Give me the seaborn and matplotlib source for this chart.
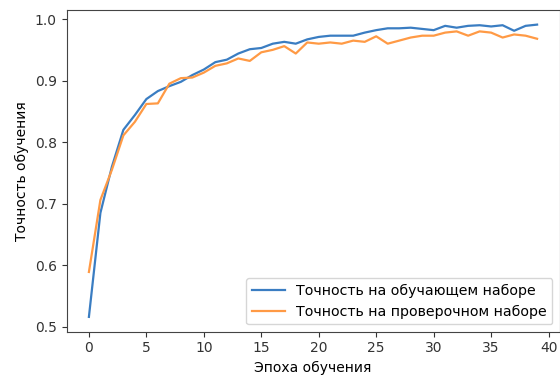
import matplotlib
matplotlib.use('Agg')
import matplotlib.pyplot as plt
import seaborn as sns
import pandas as pd

# accuracy per epoch
epochs = list(range(40))
train_acc = [0.516, 0.685, 0.760, 0.820, 0.844, 0.870, 0.883, 0.891, 0.898, 0.909,
             0.918, 0.930, 0.934, 0.944, 0.951, 0.953, 0.960, 0.963, 0.960, 0.967,
             0.971, 0.973, 0.973, 0.973, 0.978, 0.982, 0.985, 0.985, 0.986, 0.984,
             0.982, 0.989, 0.986, 0.989, 0.990, 0.988, 0.990, 0.981, 0.989, 0.991]
val_acc = [0.589, 0.706, 0.755, 0.811, 0.833, 0.862, 0.863, 0.895, 0.904, 0.905,
           0.913, 0.924, 0.928, 0.936, 0.932, 0.946, 0.950, 0.956, 0.944, 0.962,
           0.960, 0.962, 0.960, 0.965, 0.963, 0.972, 0.960, 0.965, 0.970, 0.973,
           0.973, 0.978, 0.980, 0.973, 0.980, 0.978, 0.970, 0.975, 0.973, 0.968]

train_label = 'Точность на обучающем наборе'
val_label = 'Точность на проверочном наборе'

df = pd.DataFrame({
    'epoch': epochs * 2,
    'acc': train_acc + val_acc,
    'set': [train_label] * len(epochs) + [val_label] * len(epochs),
})

fig, ax = plt.subplots(figsize=(5.6, 3.77), dpi=100)
fig.subplots_adjust(left=66.5 / 560, right=559.5 / 560, top=1 - 10 / 377, bottom=1 - 331.5 / 377)

sns.lineplot(data=df, x='epoch', y='acc', hue='set', ax=ax,
             palette=['#3a7dc2', '#ff9a45'], linewidth=1.6)

ax.set_xlabel('Эпоха обучения', fontsize=10)
ax.set_ylabel('Точность обучения', fontsize=10)
ax.set_xticks([0, 5, 10, 15, 20, 25, 30, 35, 40])
ax.tick_params(labelsize=10, colors='#333333')
for s in ax.spines.values():
    s.set_color('#444444')
ax.legend(loc='lower right', fontsize=10.2, handlelength=2.3)

fig.savefig('out.png', dpi=100)
